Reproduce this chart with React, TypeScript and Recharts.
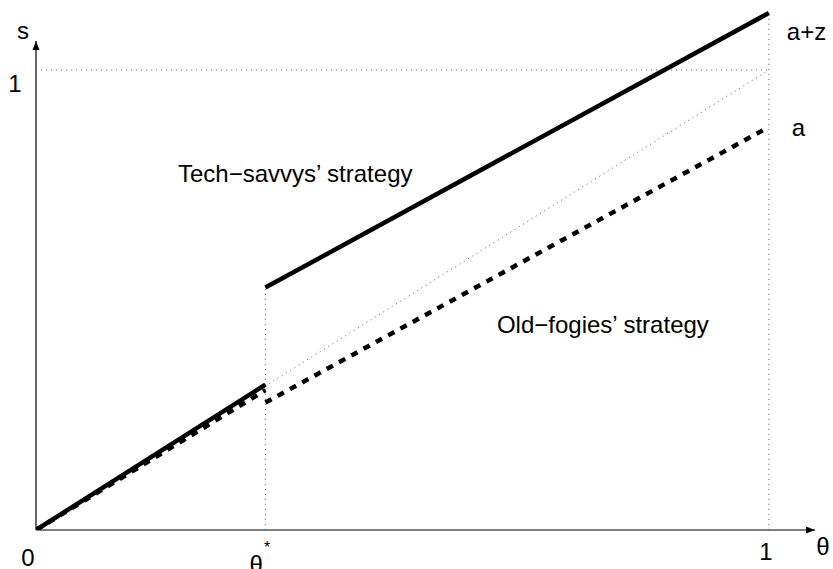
import React from 'react';
import { LineChart, Line, XAxis, YAxis, ReferenceLine, ReferenceDot } from 'recharts';

// Model values
const thetaStar = 0.313;
const aValue = 0.876;
const azValue = 1.124;
const xAxisEnd = 1.063;
const yAxisEnd = 1.063;
const yTop = 1.1348;

const techLow = [{ theta: 0, s: 0 }, { theta: thetaStar, s: 0.316 }];
const techHigh = [{ theta: thetaStar, s: 0.527 }, { theta: 1, s: azValue }];
const oldLow = [{ theta: 0, s: 0 }, { theta: thetaStar, s: 0.304 }];
const oldHigh = [{ theta: thetaStar, s: 0.277 }, { theta: 1, s: aValue }];
const diagonal = [{ theta: 0, s: 0 }, { theta: 1, s: 1 }];

const xTicks = [0, thetaStar, 1];
const xTickLabels = ['0', 'θ', '1'];
const yTicks = [1];
const yTickLabels = ['1'];

const FONT = "'Liberation Sans', Arial, Helvetica, sans-serif";

const XTick = (props: any) => {
  const { x, y, index } = props;
  const label = xTickLabels[index];
  if (index === 1) {
    return (
      <text x={x - 5.5} y={y + 43} textAnchor="middle" fontFamily={FONT} fontSize={24} fill="#000">
        <tspan>{label}</tspan>
        <tspan dx={1} dy={-20} fontSize={16}>*</tspan>
      </text>
    );
  }
  const dx = index === 0 ? -8 : -3;
  const dy = index === 0 ? 36 : 30;
  return (
    <text x={x + dx} y={y + dy} textAnchor="middle" fontFamily={FONT} fontSize={24} fill="#000">
      {label}
    </text>
  );
};

const YTick = (props: any) => {
  const { x, y, index } = props;
  return (
    <text x={x - 21} y={y + 22} textAnchor="middle" fontFamily={FONT} fontSize={24} fill="#000">
      {yTickLabels[index]}
    </text>
  );
};

const XArrow = (props: any) => {
  const { cx, cy } = props;
  return (
    <g>
      <polygon points={`${cx},${cy} ${cx - 9},${cy - 3.5} ${cx - 9},${cy + 3.5}`} fill="#000" />
      <text x={cx + 8} y={cy + 25} textAnchor="middle" fontFamily={FONT} fontSize={24} fill="#000">θ</text>
    </g>
  );
};

const YArrow = (props: any) => {
  const { cx, cy } = props;
  return (
    <g>
      <polygon points={`${cx},${cy} ${cx - 3.5},${cy + 9} ${cx + 3.5},${cy + 9}`} fill="#000" />
      <text x={cx - 13} y={cy - 2} textAnchor="middle" fontFamily={FONT} fontSize={24} fill="#000">s</text>
    </g>
  );
};

const makeLabel = (text: string, dx: number, dy: number) => (props: any) => {
  const { cx, cy } = props;
  return (
    <text x={cx + dx} y={cy + dy} textAnchor="start" fontFamily={FONT} fontSize={24} fill="#000">
      {text}
    </text>
  );
};

const dotted = { stroke: '#777', strokeWidth: 1, strokeDasharray: '1.2 3.8' };

export default function App() {
  return (
    <div style={{ position: 'absolute', left: 0, top: 0, background: '#fff' }}>
      <LineChart width={833} height={569} margin={{ top: 8, right: 18, bottom: 0, left: 0 }}>
        <XAxis
          dataKey="theta"
          type="number"
          domain={[0, xAxisEnd]}
          allowDataOverflow
          ticks={xTicks}
          tick={<XTick />}
          tickLine={false}
          tickSize={0}
          tickMargin={0}
          height={39}
          axisLine={false}
          interval={0}
        />
        <YAxis
          dataKey="s"
          type="number"
          domain={[0, yTop]}
          allowDataOverflow
          ticks={yTicks}
          tick={<YTick />}
          tickLine={false}
          tickSize={0}
          tickMargin={0}
          width={36}
          axisLine={false}
          interval={0}
        />
        <ReferenceLine segment={[{ x: 0, y: 0 }, { x: xAxisEnd, y: 0 }]} stroke="#000" strokeWidth={1.2} ifOverflow="visible" />
        <ReferenceLine segment={[{ x: 0, y: 0 }, { x: 0, y: yAxisEnd }]} stroke="#000" strokeWidth={1.2} ifOverflow="visible" />
        <ReferenceLine segment={[{ x: 0, y: 1 }, { x: 1, y: 1 }]} {...dotted} ifOverflow="visible" />
        <ReferenceLine segment={[{ x: 1, y: 0 }, { x: 1, y: azValue }]} {...dotted} ifOverflow="visible" />
        <ReferenceLine segment={[{ x: thetaStar, y: 0 }, { x: thetaStar, y: 0.527 }]} {...dotted} ifOverflow="visible" />
        <Line data={diagonal} dataKey="s" type="linear" {...dotted} dot={false} activeDot={false} isAnimationActive={false} />
        <Line data={oldLow} dataKey="s" type="linear" stroke="#000" strokeWidth={4.5} strokeDasharray="7 7" dot={false} activeDot={false} isAnimationActive={false} />
        <Line data={oldHigh} dataKey="s" type="linear" stroke="#000" strokeWidth={4.5} strokeDasharray="7 7" dot={false} activeDot={false} isAnimationActive={false} />
        <Line data={techLow} dataKey="s" type="linear" stroke="#000" strokeWidth={4.5} dot={false} activeDot={false} isAnimationActive={false} />
        <Line data={techHigh} dataKey="s" type="linear" stroke="#000" strokeWidth={4.5} dot={false} activeDot={false} isAnimationActive={false} />
        <ReferenceDot x={xAxisEnd} y={0} r={0} ifOverflow="visible" shape={<XArrow />} />
        <ReferenceDot x={0} y={yAxisEnd} r={0} ifOverflow="visible" shape={<YArrow />} />
        <ReferenceDot x={1} y={azValue} r={0} ifOverflow="visible" shape={makeLabel('a+z', 18, 27)} />
        <ReferenceDot x={1} y={aValue} r={0} ifOverflow="visible" shape={makeLabel('a', 23, 9)} />
        <ReferenceDot x={0.1937} y={0.7565} r={0} ifOverflow="visible" shape={makeLabel('Tech\u2212savvys\u2019 strategy', 0, 0)} />
        <ReferenceDot x={0.629} y={0.428} r={0} ifOverflow="visible" shape={makeLabel('Old\u2212fogies\u2019 strategy', 0, 0)} />
      </LineChart>
    </div>
  );
}
